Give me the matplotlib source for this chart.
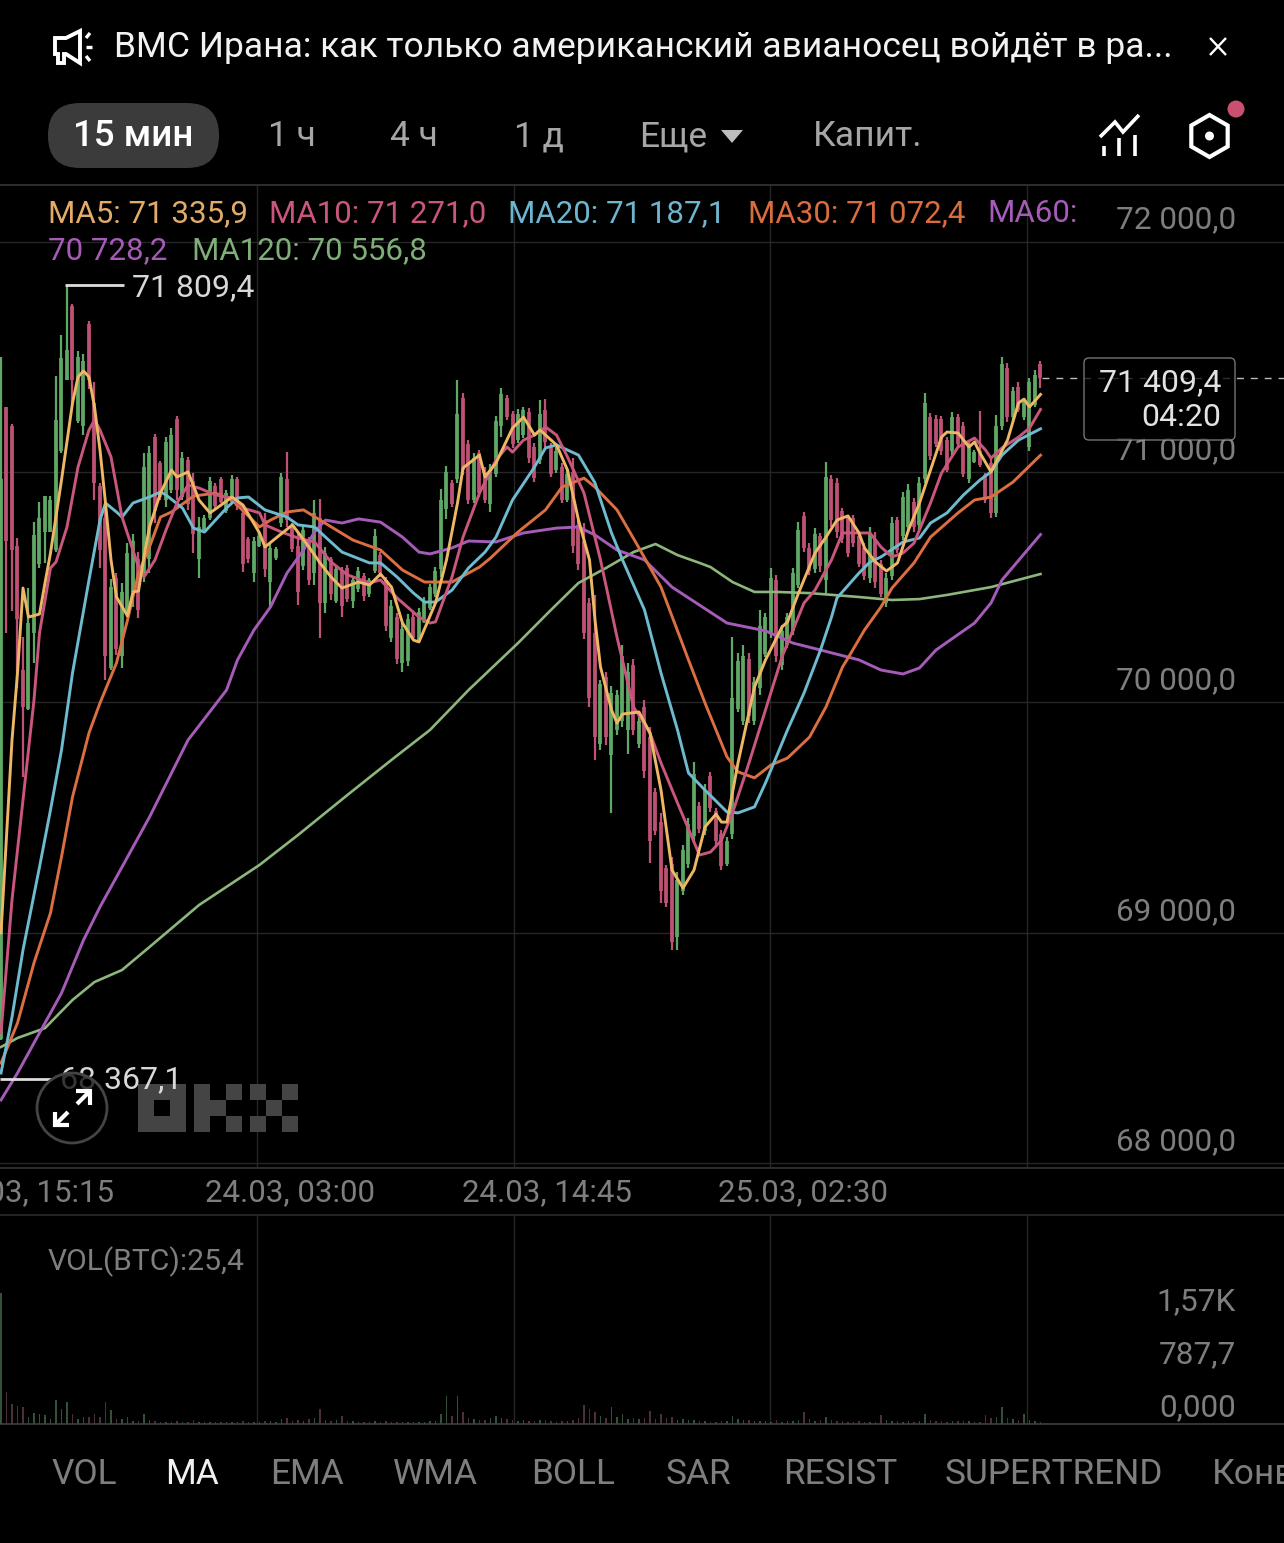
#!/usr/bin/env python3
"""BTC 15 min candles with MA lines, dark phone screenshot."""

import matplotlib
matplotlib.use('Agg')
import matplotlib.pyplot as plt
from matplotlib.patches import Circle, FancyBboxPatch, Polygon, Rectangle
import numpy as np

plt.rcParams['font.family'] = ['Roboto', 'DejaVu Sans']

BG = '#000000'
UP = '#5FA865'
DOWN = '#BF5274'
GRID = '#262626'
RULE = '#3A3A3A'
GREY = '#7E7E7E'
TAB = '#A6A6A6'

opens = [
    68540, 71280, 71200, 70680, 70140, 69970, 70300, 70600, 70740, 70740,
    70660, 71090, 71400, 71720, 71220, 71200, 71640, 71300, 70940, 70800,
    70150, 70540, 70200, 70400, 70480, 70620, 70560, 70620, 71150, 71040,
    70880, 70920, 71230, 70890, 71050, 70960, 70620, 70750, 70800, 70940,
    70970, 70830, 70870, 70970, 70820, 70710, 70560, 70680, 70790, 70520,
    70625, 70780, 70970, 70770, 70680, 70590, 70700, 70560, 70800, 70430,
    70620, 70440, 70570, 70585, 70440, 70490, 70550, 70470, 70570, 70640,
    70530, 70280, 70370, 70170, 70180, 70370, 70270, 70350, 70410, 70470,
    70580, 70840, 70950, 70970, 71320, 71120, 70880, 71080, 71000, 70860,
    70990, 71200, 71320, 71250, 71140, 71160, 71260, 71110, 71050, 71270,
    71110, 71010, 71020, 70880, 71000, 70770, 70700, 70430, 70300, 69820,
    70110, 69770, 69880, 69920, 69880, 70160, 69820, 69980, 69850, 69610,
    69480, 69280, 69300, 68980, 69180, 69300, 69420, 69550, 69440, 69680,
    69530, 69430, 69300, 69430, 69970, 69920, 70190, 69920, 70060, 70210,
    70300, 70530, 70160, 70250, 70310, 70510, 70810, 70670, 70580, 70720,
    70530, 70970, 70950, 70830, 70800, 70800, 70720, 70670, 70540, 70710,
    70600, 70430, 70550, 70790, 70720, 70760, 70870, 70770, 70970, 71240,
    71230, 71230, 71140, 71090, 71240, 71200, 70970, 71045, 71090, 70985,
    71040, 70820, 71200, 71450, 71240, 71370, 71240, 71110, 71290, 71470,
]
closes = [
    70970, 70700, 70660, 70360, 69980, 70345, 70725, 70800, 70895, 70880,
    71225, 71495, 71530, 71400, 71500, 71480, 71400, 70950, 70660, 70200,
    70500, 70230, 70480, 70650, 70700, 70400, 71020, 71080, 70830, 70890,
    71130, 71160, 70920, 71060, 70860, 70730, 70760, 70800, 70960, 70850,
    70870, 70910, 70970, 70850, 70600, 70620, 70700, 70720, 70580, 70670,
    70665, 70980, 70790, 70665, 70480, 70750, 70530, 70820, 70430, 70650,
    70470, 70580, 70420, 70450, 70530, 70570, 70460, 70530, 70720, 70560,
    70330, 70420, 70190, 70320, 70360, 70280, 70390, 70440, 70500, 70570,
    70880, 71000, 70860, 71250, 71010, 70880, 71060, 70910, 70880, 71010,
    71220, 71340, 71240, 71120, 71250, 71270, 71060, 70975, 71250, 71130,
    70990, 71090, 70880, 70990, 70680, 70600, 70300, 70020, 69850, 70080,
    69850, 70040, 70030, 70200, 70130, 69880, 69920, 69700, 69400, 69440,
    69180, 69130, 68960, 69230, 69360, 69470, 69690, 69450, 69620, 69540,
    69400, 69290, 69400, 70020, 70180, 70200, 69940, 70090, 70330, 70370,
    70540, 70200, 70310, 70370, 70560, 70750, 70670, 70570, 70730, 70590,
    70980, 70790, 70740, 70710, 70650, 70690, 70600, 70550, 70730, 70520,
    70470, 70540, 70780, 70660, 70890, 70920, 70760, 70950, 71300, 71070,
    71120, 71090, 71010, 71240, 71120, 70990, 71120, 71085, 71030, 70880,
    70820, 71200, 71470, 71240, 71350, 71270, 71310, 71390, 71420, 71409.4,
]
highs = [
    71500, 71280, 71210, 70713, 70283, 70496, 70782, 70870, 70895, 70895,
    71416, 71594, 71809.4, 71729, 71525, 71512, 71655, 71390, 70952, 70865,
    70535, 70561, 70518, 70691, 70730, 70652, 71082, 71112, 71164, 71047,
    71151, 71190, 71243, 71086, 71065, 70995, 70804, 70813, 70978, 70952,
    70978, 70921, 70987, 70978, 70835, 70717, 70717, 70735, 70822, 70691,
    70674, 70995, 71086, 70778, 70735, 70770, 70717, 70878, 70882, 70674,
    70631, 70596, 70587, 70596, 70544, 70587, 70561, 70540, 70752, 70652,
    70544, 70444, 70387, 70344, 70383, 70387, 70409, 70457, 70513, 70587,
    70926, 71026, 70965, 71399, 71342, 71138, 71082, 71095, 71021, 71034,
    71243, 71364, 71334, 71264, 71273, 71282, 71277, 71125, 71312, 71316,
    71125, 71108, 71039, 71008, 71060, 70791, 70778, 70453, 70466, 70097,
    70132, 70071, 70053, 70249, 70171, 70188, 69936, 70010, 69893, 69628,
    69520, 69294, 69329, 69264, 69381, 69498, 69741, 69567, 69645, 69698,
    69541, 69446, 69415, 70283, 70214, 70249, 70214, 70110, 70401, 70387,
    70583, 70553, 70335, 70387, 70583, 70782, 70826, 70691, 70756, 70735,
    71043, 70986, 70973, 70843, 70813, 70813, 70739, 70691, 70761, 70739,
    70618, 70561, 70804, 70804, 70913, 70947, 70887, 70978, 71342, 71256,
    71247, 71243, 71151, 71260, 71251, 71217, 71138, 71095, 71264, 70995,
    71060, 71247, 71499, 71473, 71368, 71390, 71321, 71408, 71442, 71481,
]
lows = [
    68535, 70300, 70395, 70062, 69676, 69967, 70170, 70583, 70605, 70740,
    70652, 71082, 71399, 71299, 71212, 71160, 71360, 70878, 70583, 70097,
    70140, 70205, 70149, 70370, 70414, 70366, 70522, 70561, 70778, 70878,
    70848, 70908, 70878, 70878, 70835, 70648, 70540, 70748, 70791, 70843,
    70865, 70822, 70865, 70835, 70566, 70605, 70522, 70674, 70544, 70414,
    70618, 70761, 70761, 70652, 70422, 70574, 70509, 70509, 70279, 70388,
    70444, 70431, 70370, 70435, 70409, 70479, 70440, 70457, 70561, 70544,
    70310, 70262, 70166, 70132, 70158, 70270, 70262, 70344, 70401, 70457,
    70544, 70796, 70848, 70952, 70986, 70861, 70865, 70891, 70865, 70826,
    70978, 71151, 71225, 71104, 71125, 71147, 71039, 70956, 71034, 71108,
    70978, 70995, 70865, 70869, 70648, 70574, 70275, 69980, 69750, 69793,
    69815, 69520, 69858, 69893, 69776, 69858, 69802, 69671, 69303, 69424,
    69129, 69112, 68925, 68925, 69164, 69281, 69394, 69433, 69424, 69524,
    69381, 69272, 69290, 69407, 69958, 69902, 69910, 69902, 70032, 70197,
    70279, 70175, 70140, 70236, 70292, 70496, 70652, 70553, 70561, 70566,
    70474, 70761, 70713, 70691, 70631, 70674, 70587, 70531, 70518, 70496,
    70457, 70414, 70531, 70648, 70704, 70739, 70739, 70748, 70952, 71052,
    71108, 71073, 71000, 71073, 71108, 70978, 70952, 71039, 71021, 70865,
    70800, 70804, 71182, 71217, 71225, 71260, 71225, 71091, 71282, 71364,
]
volumes = [
    1940, 475, 300, 270, 250, 105, 165, 150, 135, 75,
    355, 225, 325, 150, 75, 105, 105, 150, 105, 325,
    210, 75, 75, 105, 45, 45, 150, 60, 40, 30,
    35, 30, 40, 35, 30, 60, 30, 35, 30, 30,
    30, 35, 30, 30, 40, 30, 30, 35, 40, 45,
    35, 75, 85, 45, 60, 50, 70, 90, 225, 60,
    40, 60, 120, 45, 40, 35, 30, 30, 45, 35,
    40, 35, 30, 30, 35, 30, 30, 35, 40, 45,
    150, 410, 120, 420, 180, 90, 70, 60, 65, 85,
    120, 90, 70, 60, 50, 65, 45, 40, 55, 60,
    40, 35, 45, 40, 60, 85, 280, 220, 180, 120,
    90, 250, 110, 150, 70, 90, 70, 85, 190, 80,
    150, 90, 105, 60, 70, 55, 60, 45, 40, 35,
    30, 40, 45, 120, 70, 60, 55, 45, 50, 40,
    35, 60, 35, 40, 50, 60, 180, 70, 50, 60,
    105, 60, 50, 40, 35, 30, 40, 35, 30, 35,
    135, 60, 45, 40, 35, 40, 35, 45, 150, 60,
    50, 40, 35, 45, 40, 50, 40, 35, 30, 135,
    90, 100, 250, 90, 70, 60, 150, 60, 45, 25.4,
]

# MA traces, read at the candle index where each line visibly bends
ma5_idx = [0, 2, 3, 4, 5, 7, 8, 9, 11, 13, 14, 15, 16, 17, 18, 19, 20, 21, 23, 24,
           25, 26, 27, 29, 31, 32, 34, 36, 38, 40, 42, 44, 47, 48, 50, 53, 56, 58, 60, 62,
           65, 67, 69, 71, 73, 75, 76, 79, 81, 83, 84, 87, 88, 90, 93, 95, 97, 98, 101, 103,
           105, 107, 108, 109, 111, 112, 113, 116, 118, 120, 122, 124, 126, 128, 130, 131, 132, 134, 137, 139,
           142, 143, 145, 148, 150, 152, 154, 156, 157, 159, 161, 163, 165, 167, 171, 172, 174, 176, 177, 178,
           180, 183, 185, 186, 187, 189]
ma5 = [68999, 69836, 70127, 70496, 70370, 70383, 70518, 70648, 70965, 71299, 71412, 71438, 71412, 71282, 71095, 70865, 70618, 70457, 70375, 70479,
       70483, 70631, 70761, 70908, 71008, 70978, 71000, 70878, 70822, 70856, 70891, 70856, 70735, 70674, 70713, 70770, 70674, 70605, 70544, 70496,
       70522, 70509, 70557, 70500, 70344, 70270, 70262, 70431, 70618, 70865, 71017, 71073, 70978, 71039, 71190, 71238, 71160, 71182, 71117, 71008,
       70791, 70618, 70357, 70153, 69967, 69910, 69949, 69958, 69867, 69619, 69272, 69194, 69272, 69459, 69515, 69480, 69480, 69737, 70066, 70184,
       70327, 70349, 70474, 70648, 70717, 70791, 70809, 70735, 70670, 70609, 70570, 70605, 70748, 70865, 71151, 71173, 71169, 71108, 71130, 71082,
       71000, 71138, 71299, 71316, 71282, 71335.9]

ma10_idx = [0, 2, 4, 6, 7, 9, 10, 12, 14, 16, 17, 18, 20, 22, 25, 26, 28, 30, 32, 34,
            36, 39, 42, 44, 47, 48, 51, 54, 57, 60, 63, 67, 69, 72, 76, 78, 79, 82, 84, 87,
            90, 92, 93, 95, 97, 99, 101, 103, 106, 109, 112, 115, 118, 120, 123, 127, 129, 131, 133, 136,
            139, 142, 146, 148, 151, 153, 156, 158, 160, 162, 164, 166, 169, 171, 174, 177, 179, 180, 182, 185,
            187, 189]
ma10 = [68565, 69142, 69576, 70010, 70301, 70583, 70609, 70761, 71021, 71182, 71225, 71182, 71065, 70804, 70587, 70544, 70618, 70748, 70865, 70943,
        70930, 70900, 70887, 70843, 70822, 70770, 70739, 70713, 70696, 70609, 70553, 70518, 70531, 70453, 70370, 70344, 70349, 70544, 70717, 70908,
        71052, 71108, 71086, 71138, 71160, 71195, 71160, 71065, 70908, 70618, 70283, 69980, 69867, 69737, 69563, 69337, 69350, 69402, 69520, 69737,
        69967, 70197, 70431, 70487, 70618, 70735, 70735, 70735, 70674, 70631, 70648, 70691, 70865, 70995, 71108, 71147, 71095, 71060, 71104, 71151,
        71190, 71271]

ma20_idx = [0, 2, 4, 7, 9, 11, 13, 16, 18, 19, 21, 22, 24, 27, 29, 30, 33, 35, 37, 39,
            41, 43, 45, 48, 52, 54, 57, 59, 62, 67, 69, 72, 75, 77, 79, 82, 85, 88, 90, 93,
            97, 99, 101, 105, 108, 111, 113, 117, 120, 123, 125, 128, 132, 134, 137, 139, 143, 146, 149, 151,
            152, 156, 158, 160, 164, 167, 169, 172, 175, 178, 180, 182, 185, 189]
ma20 = [68391, 68634, 68925, 69285, 69533, 69793, 70127, 70531, 70791, 70865, 70826, 70804, 70865, 70891, 70913, 70900, 70843, 70756, 70739, 70791,
        70843, 70887, 70891, 70835, 70804, 70770, 70761, 70717, 70652, 70605, 70605, 70544, 70474, 70435, 70435, 70487, 70583, 70652, 70717, 70878,
        71021, 71104, 71117, 71073, 70952, 70735, 70618, 70401, 70127, 69880, 69693, 69619, 69524, 69520, 69546, 69650, 69880, 70040, 70227, 70370,
        70453, 70561, 70609, 70631, 70696, 70713, 70778, 70822, 70900, 70965, 71000, 71073, 71138, 71187.1]

ma30_idx = [0, 3, 6, 9, 11, 13, 16, 18, 21, 23, 25, 27, 29, 31, 35, 39, 42, 47, 49, 52,
            55, 58, 64, 69, 73, 77, 82, 87, 89, 94, 99, 102, 106, 108, 112, 116, 120, 125, 128, 132,
            134, 137, 140, 143, 147, 150, 153, 154, 157, 160, 162, 166, 169, 174, 177, 180, 184, 189]
ma30 = [68434, 68608, 68869, 69086, 69329, 69589, 69867, 69997, 70171, 70357, 70561, 70674, 70804, 70826, 70895, 70908, 70878, 70761, 70791, 70826,
        70835, 70791, 70704, 70661, 70574, 70522, 70522, 70587, 70626, 70739, 70835, 70934, 70973, 70934, 70835, 70670, 70500, 70184, 69997, 69763,
        69698, 69672, 69728, 69758, 69849, 69980, 70153, 70192, 70314, 70414, 70496, 70605, 70717, 70822, 70878, 70891, 70956, 71072.4]

ma60_idx = [0, 3, 7, 11, 15, 18, 22, 27, 34, 41, 43, 46, 49, 52, 55, 57, 59, 62, 65, 69,
            73, 76, 78, 82, 85, 90, 95, 101, 105, 108, 112, 117, 122, 132, 139, 144, 149, 156, 160, 164,
            167, 170, 177, 180, 182, 189]
ma60 = [68274, 68391, 68565, 68738, 68968, 69112, 69285, 69502, 69836, 70053, 70184, 70314, 70414, 70561, 70661, 70739, 70791, 70778, 70796, 70782,
        70717, 70652, 70644, 70670, 70700, 70696, 70735, 70756, 70761, 70726, 70661, 70618, 70500, 70344, 70310, 70257, 70227, 70184, 70140, 70123,
        70149, 70227, 70344, 70431, 70531, 70728.2]

ma120_idx = [0, 3, 8, 13, 17, 22, 27, 36, 47, 54, 63, 71, 78, 85, 94, 100, 105, 110, 115, 119,
             123, 127, 129, 133, 137, 141, 147, 156, 162, 167, 172, 180, 189]
ma120 = [68504, 68543, 68586, 68708, 68786, 68838, 68938, 69120, 69294, 69424, 69598, 69750, 69880, 70053, 70257, 70401, 70518, 70583, 70652, 70687,
         70639, 70605, 70587, 70522, 70479, 70479, 70474, 70457, 70444, 70448, 70466, 70500, 70556.8]

price_ticks = [72000, 71000, 70000, 69000, 68000]
price_labels = ['72 000,0', '71 000,0', '70 000,0', '69 000,0', '68 000,0']
vol_ticks = [0, 787.7, 1570]
vol_labels = ['0,000', '787,7', '1,57K']
time_ticks = [46.55, 93.27, 139.82, 186.55]
time_labels = ['24.03, 03:00', '24.03, 14:45', '25.03, 02:30']
HIGH = 71809.4
LOW = 68367.1
LAST = 71409.4

W, H = 1284, 1543
STEP = 5.5       # px per candle
PX_USD = 0.2304  # px per dollar
PX_VOL = 0.0673  # px per BTC


def idx_of(px):
    return (px - 1) / STEP


def price_of(py):
    return 72000 - (py - 241.5) / PX_USD


def axes_at(top, bottom):
    return fig.add_axes([0, 1 - bottom / H, 1, (bottom - top) / H])


fig = plt.figure(figsize=(W / 100, H / 100), dpi=100)
fig.patch.set_facecolor(BG)

ax = axes_at(186, 1167)
ax.set_facecolor(BG)
ax.set_xlim(idx_of(0), idx_of(W))
ax.set_ylim(price_of(1167), price_of(186))
ax.axis('off')

for t in price_ticks:
    ax.axhline(t, color=GRID, lw=1, zorder=0)
for t in time_ticks:
    ax.axvline(t, color=GRID, lw=1, zorder=0)

# Candles
x = np.arange(len(opens))
o, c, hi, lo = map(np.array, (opens, closes, highs, lows))
colors = [UP if b >= a else DOWN for a, b in zip(o, c)]
ax.vlines(x, lo, hi, color=colors, lw=1.6, capstyle='butt', zorder=2)
ax.vlines(x, np.minimum(o, c), np.maximum(o, c), color=colors, lw=2.7,
          capstyle='butt', zorder=2)

# MA lines
ax.plot(ma120_idx, ma120, color='#8DB67C', lw=1.9, zorder=3)
ax.plot(ma60_idx, ma60, color='#A65BB9', lw=2.1, zorder=4)
ax.plot(ma30_idx, ma30, color='#DB6F41', lw=2.1, zorder=5)
ax.plot(ma20_idx, ma20, color='#6EBACF', lw=2.1, zorder=6)
ax.plot(ma10_idx, ma10, color='#C9567C', lw=2.1, zorder=7)
ax.plot(ma5_idx, ma5, color='#EDB766', lw=2.1, zorder=8)

# Max / min markers and last price
ax.hlines(HIGH, idx_of(65), idx_of(124), color='#DDDDDD', lw=2, zorder=9)
ax.hlines(LOW, idx_of(0), idx_of(52), color='#DDDDDD', lw=2, zorder=9)
ax.hlines(LAST, idx_of(1042), idx_of(W), color='#BBBBBB', lw=1, linestyles=(0, (5, 5)), zorder=9)

axv = axes_at(1216, 1424)
axv.set_facecolor(BG)
axv.patch.set_alpha(0)
axv.set_xlim(ax.get_xlim())
axv.set_ylim(0, 208 / PX_VOL)
axv.axis('off')
for t in time_ticks:
    axv.axvline(t, color=GRID, lw=1, zorder=0)
vol_colors = ['#34503A' if b >= a else '#4C3039' for a, b in zip(o, c)]
axv.bar(x, volumes, width=0.2, color=vol_colors, zorder=2)

# Overlay in screen px for the app chrome
ui = fig.add_axes([0, 0, 1, 1])
ui.set_xlim(0, W)
ui.set_ylim(H, 0)
ui.axis('off')
ui.patch.set_alpha(0)


def label(px, py, s, color=GREY, size=22.5, ha='left', **kw):
    ui.text(px, py + 1.5, s, color=color, fontsize=size, ha=ha, va='center', **kw)


def stroke(xs, ys, color='white', lw=2.2, zorder=6):
    ui.plot(xs, ys, color=color, lw=lw, solid_capstyle='butt', solid_joinstyle='miter', zorder=zorder)


for yy, col in [(185, RULE), (1168, RULE), (1215, '#2E2E2E'), (1424, '#444444')]:
    ui.plot([0, W], [yy, yy], color=col, lw=1.1)

# Top news line
ui.add_patch(Polygon([(55, 38), (66, 38), (80, 31), (80, 63), (66, 54), (64, 54), (64, 63),
                      (58, 63), (58, 54), (55, 54)], closed=True, fill=False, ec='white', lw=2.8))
stroke([86, 90], [38, 33], lw=2.4)
stroke([86, 92], [47, 47], lw=2.4)
stroke([86, 90], [56, 61], lw=2.4)
label(114, 46, 'ВМС Ирана: как только американский авианосец войдёт в ра...', color='#F2F2F2', size=25.5)
stroke([1210, 1226], [38, 55], lw=1.7)
stroke([1226, 1210], [38, 55], lw=1.7)

# Interval tabs
ui.add_patch(FancyBboxPatch((48, 103), 171, 65, boxstyle='round,pad=0,rounding_size=32',
                            fc='#3B3B3B', ec='none'))
label(133, 135, '15 мин', color='white', size=26.5, ha='center', fontweight='medium')
for px, s in [(268, '1 ч'), (390, '4 ч'), (514, '1 д'), (639, 'Еще'), (813, 'Капит.')]:
    label(px, 135, s, color=TAB, size=25.5)
ui.add_patch(Polygon([(721, 130), (743, 130), (732, 143)], closed=True, fc='#BDBDBD', ec='none'))

# Chart and hexagon icons
stroke([1100, 1115, 1123, 1139], [137, 122, 132, 115], lw=2.6)
for px, top in [(1104, 146), (1119, 138), (1135, 135)]:
    stroke([px, px], [top, 156], lw=2.6)
ang = np.deg2rad(np.arange(6) * 60 + 90)
ui.add_patch(Polygon(np.c_[1209.5 + 21 * np.cos(ang), 136 + 21 * np.sin(ang)], closed=True,
                     fill=False, ec='white', lw=3))
ui.add_patch(Circle((1209.5, 136), 4.5, fc='white', ec='none'))
ui.add_patch(Circle((1236, 109), 8.5, fc='#C9506F', ec='none'))

# MA legend
label(48, 212, 'MA5: 71 335,9', color='#E2AB69')
label(269, 212, 'MA10: 71 271,0', color='#C9567C')
label(508, 212, 'MA20: 71 187,1', color='#6EB6CF')
label(748, 212, 'MA30: 71 072,4', color='#D96D40')
label(987, 212, 'MA60:', color='#A65BB9')
label(48, 249, '70 728,2', color='#A65BB9')
label(192, 249, 'MA120: 70 556,8', color='#7FAE78')

# Axis labels
for t, s in zip(price_ticks, price_labels):
    py = 241.5 + (72000 - t) * PX_USD
    label(1236, py - 23, s, ha='right', size=22.7)
for t, s in zip(vol_ticks, vol_labels):
    py = 1424 - t * PX_VOL
    label(1236, py - 18, s, ha='right', size=22.7)
label(114, 1191, '23.03, 15:15', ha='right')
for t, s in zip(time_ticks[:3], time_labels):
    px = 1 + t * STEP
    label(px + 33, 1191, s, ha='center')
label(48, 1260, 'VOL(BTC):25,4', size=21.6)

label(132, 286, '71 809,4', color='#D8D8D8', size=23)
label(60, 1078, '68 367,1', color='#D8D8D8', size=23)

# Watermark built from blocks
LOGO = '#444444'
for bx, by, bw, bh in [(138, 1084, 48, 16), (138, 1116, 48, 16), (138, 1100, 16, 16), (170, 1100, 16, 16),
                       (194, 1084, 16, 48), (210, 1100, 16, 16), (226, 1084, 16, 16), (226, 1116, 16, 16),
                       (250, 1084, 16, 16), (250, 1116, 16, 16), (266, 1100, 16, 16), (282, 1084, 16, 16),
                       (282, 1116, 16, 16)]:
    ui.add_patch(Rectangle((bx, by), bw, bh, fc=LOGO, ec='none'))

# Expand button, sits over the low label
ui.add_patch(Circle((72, 1108), 35, fc='#000000', alpha=0.75, ec='none', zorder=4))
ui.add_patch(Circle((72, 1108), 35, fill=False, ec='#444444', lw=2, zorder=5))
stroke([55, 68], [1125, 1112], lw=3)
stroke([77, 90], [1104, 1091], lw=3)
stroke([55, 55, 69], [1112, 1125, 1125], lw=3)
stroke([76, 90, 90], [1091, 1091, 1105], lw=3)

# Last price box, sits over the 71 000 label
ui.add_patch(FancyBboxPatch((1084, 358), 151, 82, boxstyle='round,pad=0,rounding_size=5',
                            fc='#000000', ec='#9A9A9A', lw=1, alpha=0.75, zorder=4))
label(1221, 381, '71 409,4', color='#E2E2E2', ha='right', size=23, zorder=6)
label(1221, 416, '04:20', color='#E2E2E2', ha='right', size=23, zorder=6)

# Indicator tabs
for px, s, col in [(51, 'VOL', GREY), (165, 'MA', '#F0F0F0'), (270, 'EMA', GREY), (393, 'WMA', GREY),
                   (531, 'BOLL', GREY), (666, 'SAR', GREY), (783, 'RESIST', GREY),
                   (945, 'SUPERTREND', GREY), (1212, 'Конв', GREY)]:
    label(px, 1473, s, color=col, size=25.4)

fig.savefig('out.png', dpi=100, facecolor=BG)
